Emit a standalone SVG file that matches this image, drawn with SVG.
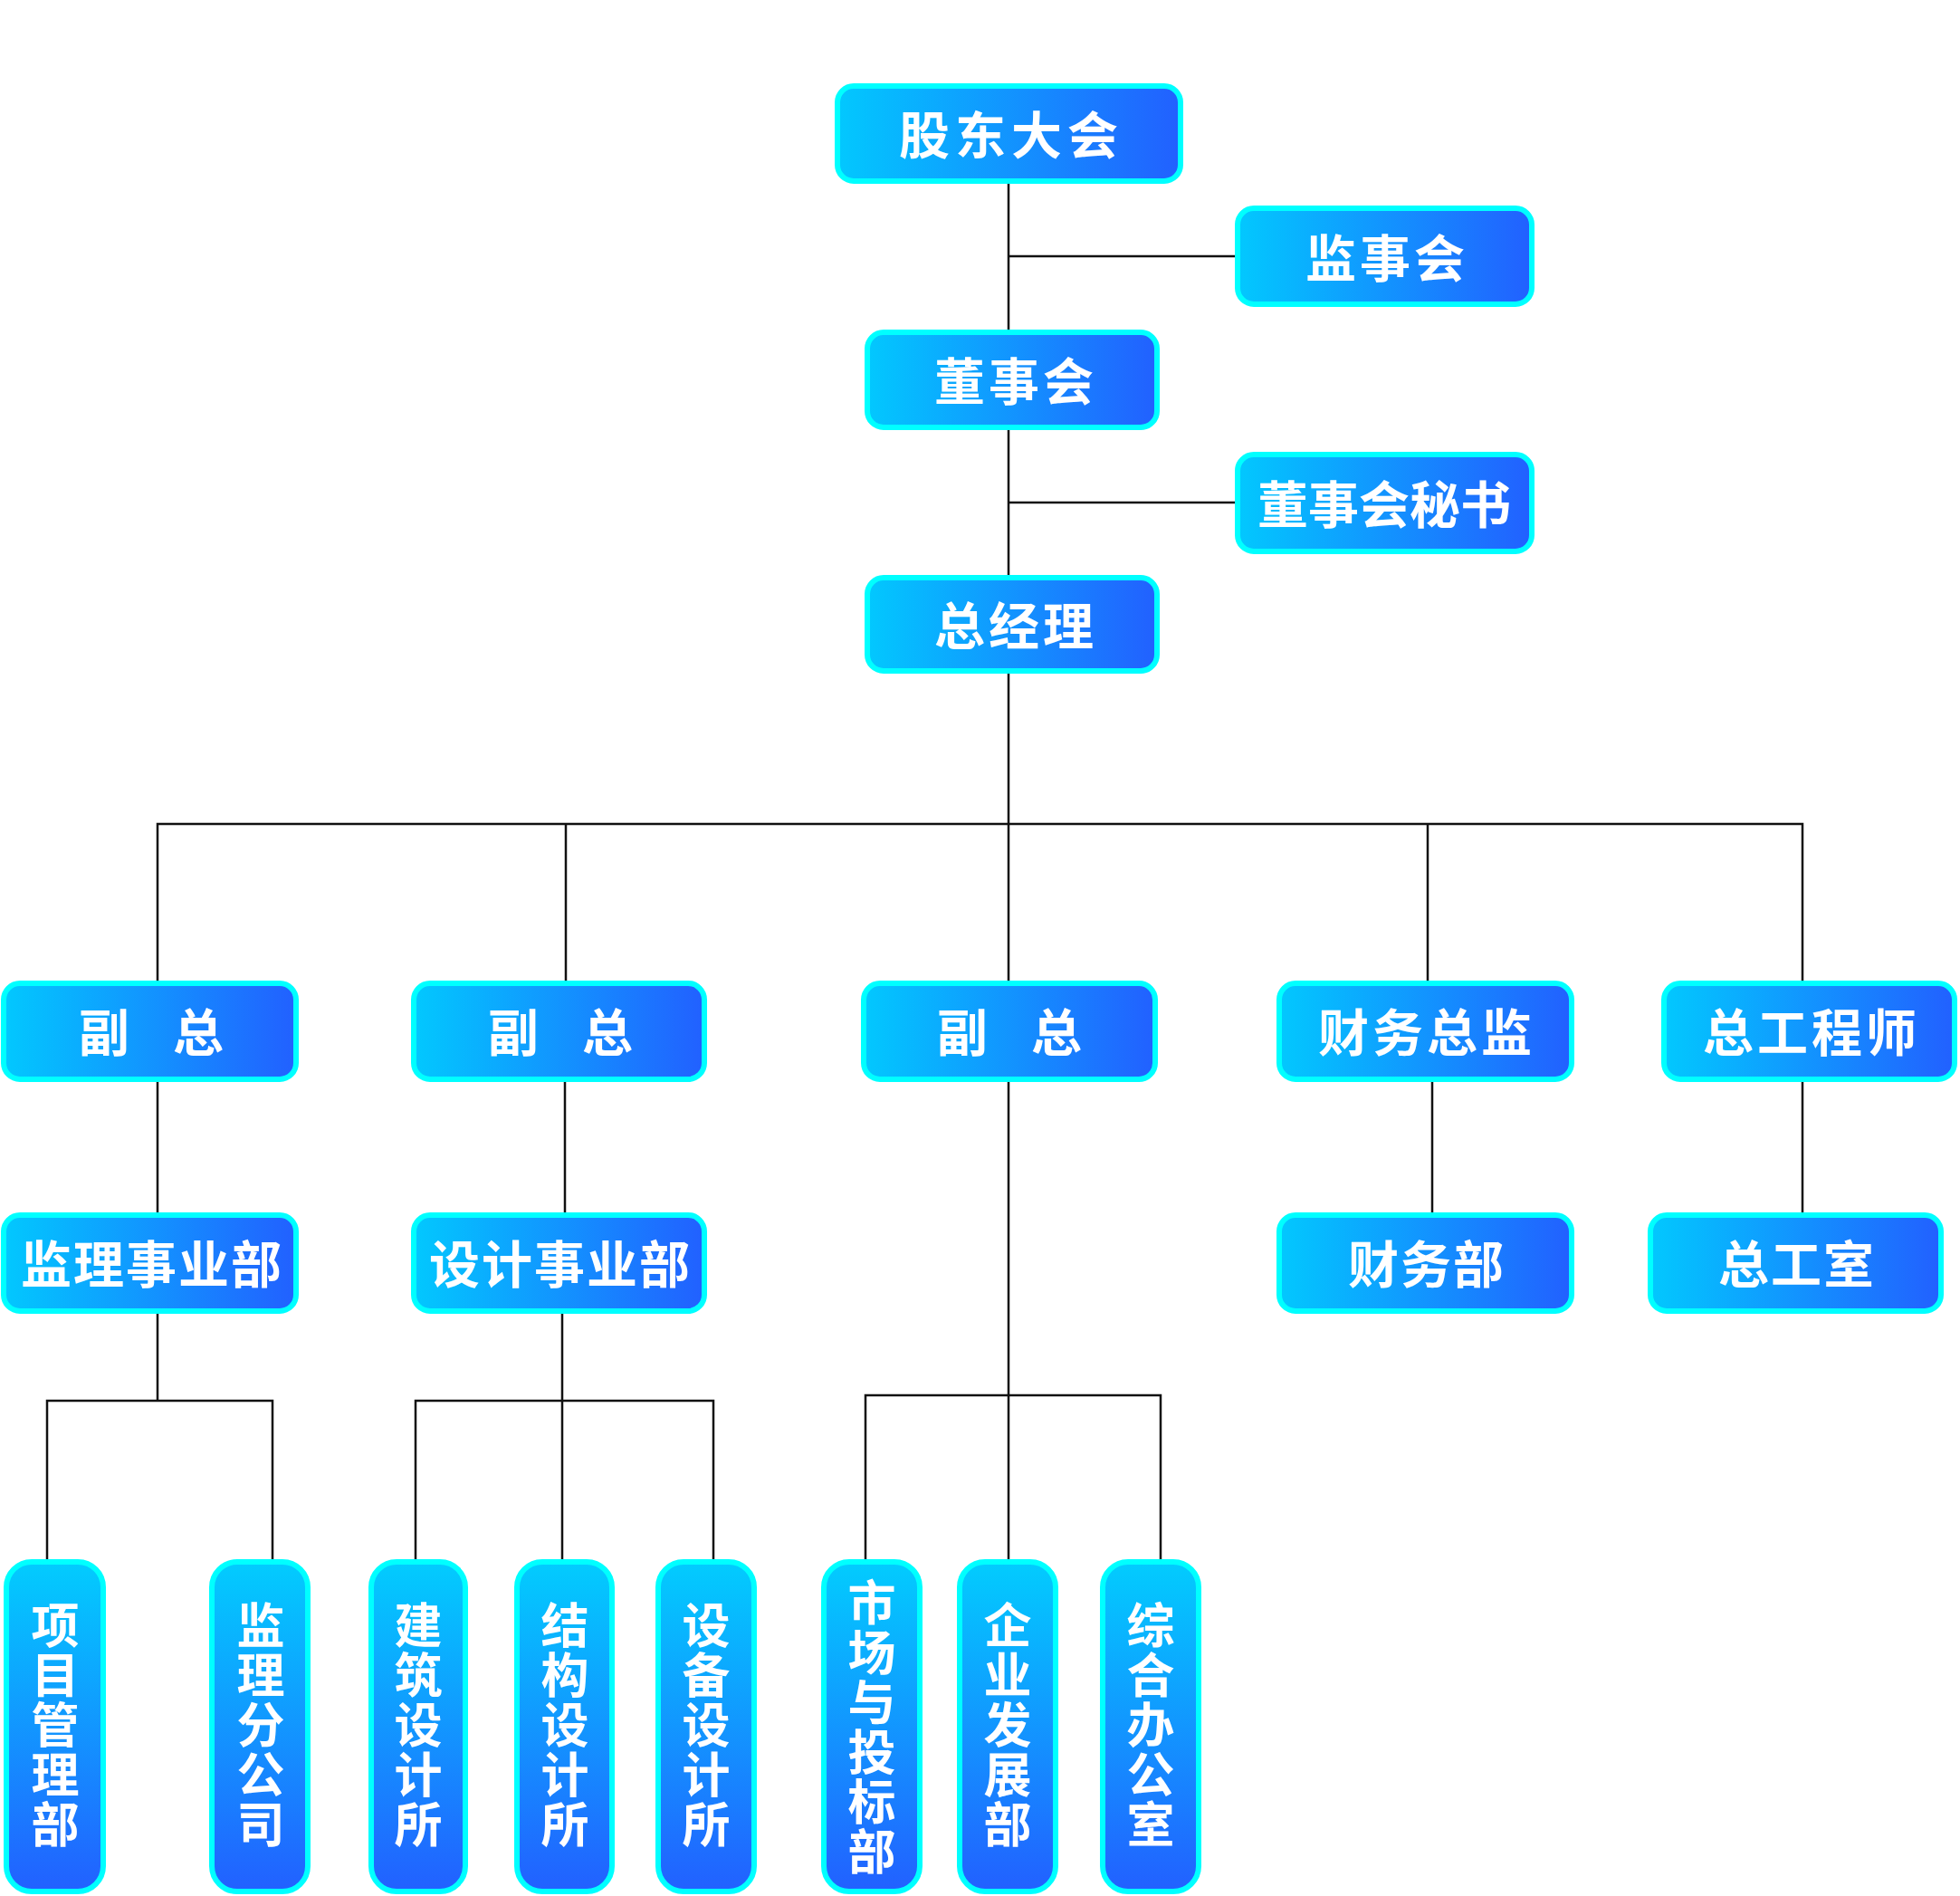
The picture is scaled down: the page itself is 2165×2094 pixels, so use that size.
<svg xmlns="http://www.w3.org/2000/svg" width="2165" height="2094" viewBox="0 0 2165 2094">
<defs>
<linearGradient id="gh" x1="0" y1="0" x2="1" y2="0">
<stop offset="0" stop-color="#02c8fe"/>
<stop offset="1" stop-color="#2260ff"/>
</linearGradient>
<linearGradient id="gv" x1="0" y1="0" x2="0" y2="1">
<stop offset="0" stop-color="#02ccfe"/>
<stop offset="1" stop-color="#2260ff"/>
</linearGradient>
</defs>
<style>
.h{fill:url(#gh);stroke:#00ffff;stroke-width:6}
.v{fill:url(#gv);stroke:#00ffff;stroke-width:6}
.t{font-family:"Noto Sans CJK SC","Noto Sans CJK TC",sans-serif;font-weight:bold;font-size:56px;fill:#ffffff;text-anchor:middle;dominant-baseline:central}
.vt{font-family:"Noto Sans CJK SC","Noto Sans CJK TC",sans-serif;font-weight:bold;font-size:53px;fill:#ffffff;text-anchor:middle;writing-mode:vertical-rl;letter-spacing:2px}
.c{fill:none;stroke:#111111;stroke-width:2.5}
</style>
<rect width="2165" height="2094" fill="#ffffff"/>
<g id="connectors">
<path class="c" d="M1114 203V364M1114 283H1364M1114 474V635M1114 555H1364M1114 743V910"/>
<path class="c" d="M174 1083V910H1991V1083M625 910V1083M1114 910V1083M1577 910V1083"/>
<path class="c" d="M174 1195V1339M624 1195V1339M1582 1195V1339M1991 1195V1339"/>
<path class="c" d="M174 1451V1547M52 1722V1547H301V1722"/>
<path class="c" d="M621 1451V1722M459 1722V1547H788V1722"/>
<path class="c" d="M1114 1195V1722M956 1722V1541H1282V1722"/>
</g>
<g id="n1"><rect class="h" x="925" y="95" width="379" height="105" rx="18"/><text class="t" x="1117" y="145" letter-spacing="6">股东大会</text></g>
<g id="n2"><rect class="h" x="1367" y="230" width="325" height="106" rx="18"/><text class="t" x="1532" y="281" letter-spacing="4">监事会</text></g>
<g id="n3"><rect class="h" x="958" y="367" width="320" height="105" rx="18"/><text class="t" x="1122" y="417" letter-spacing="4">董事会</text></g>
<g id="n4"><rect class="h" x="1367" y="502" width="325" height="107" rx="18"/><text class="t" x="1529" y="553">董事会秘书</text></g>
<g id="n5"><rect class="h" x="958" y="638" width="320" height="103" rx="18"/><text class="t" x="1122" y="687" letter-spacing="4">总经理</text></g>
<g id="n6"><rect class="h" x="4" y="1086" width="323" height="106" rx="18"/><text class="t" x="165" y="1136" letter-spacing="-4">副　总</text></g>
<g id="n7"><rect class="h" x="457" y="1086" width="321" height="106" rx="18"/><text class="t" x="617" y="1136" letter-spacing="-4">副　总</text></g>
<g id="n8"><rect class="h" x="954" y="1086" width="322" height="106" rx="18"/><text class="t" x="1113" y="1136" letter-spacing="-4">副　总</text></g>
<g id="n9"><rect class="h" x="1413" y="1086" width="323" height="106" rx="18"/><text class="t" x="1576" y="1136" letter-spacing="4">财务总监</text></g>
<g id="n10"><rect class="h" x="1838" y="1086" width="321" height="106" rx="18"/><text class="t" x="2001" y="1136" letter-spacing="4">总工程师</text></g>
<g id="n11"><rect class="h" x="4" y="1342" width="323" height="106" rx="18"/><text class="t" x="168" y="1392" letter-spacing="2">监理事业部</text></g>
<g id="n12"><rect class="h" x="457" y="1342" width="321" height="106" rx="18"/><text class="t" x="619" y="1392" letter-spacing="2">设计事业部</text></g>
<g id="n13"><rect class="h" x="1413" y="1342" width="323" height="106" rx="18"/><text class="t" x="1576" y="1392" letter-spacing="2">财务部</text></g>
<g id="n14"><rect class="h" x="1823" y="1342" width="321" height="106" rx="18"/><text class="t" x="1985" y="1392" letter-spacing="2">总工室</text></g>
<g id="n15"><rect class="v" x="7" y="1725" width="107" height="364" rx="28"/><text class="vt" x="61" y="1906">项目管理部</text></g>
<g id="n16"><rect class="v" x="234" y="1725" width="106" height="364" rx="28"/><text class="vt" x="288" y="1906">监理分公司</text></g>
<g id="n17"><rect class="v" x="410" y="1725" width="104" height="364" rx="28"/><text class="vt" x="462" y="1906">建筑设计所</text></g>
<g id="n18"><rect class="v" x="571" y="1725" width="105" height="364" rx="28"/><text class="vt" x="624" y="1906">结构设计所</text></g>
<g id="n19"><rect class="v" x="727" y="1725" width="106" height="364" rx="28"/><text class="vt" x="780" y="1906">设备设计所</text></g>
<g id="n20"><rect class="v" x="910" y="1725" width="106" height="364" rx="28"/><text class="vt" x="963" y="1908">市场与投标部</text></g>
<g id="n21"><rect class="v" x="1060" y="1725" width="106" height="364" rx="28"/><text class="vt" x="1113" y="1906">企业发展部</text></g>
<g id="n22"><rect class="v" x="1218" y="1725" width="106" height="364" rx="28"/><text class="vt" x="1271" y="1906">综合办公室</text></g>
</svg>
